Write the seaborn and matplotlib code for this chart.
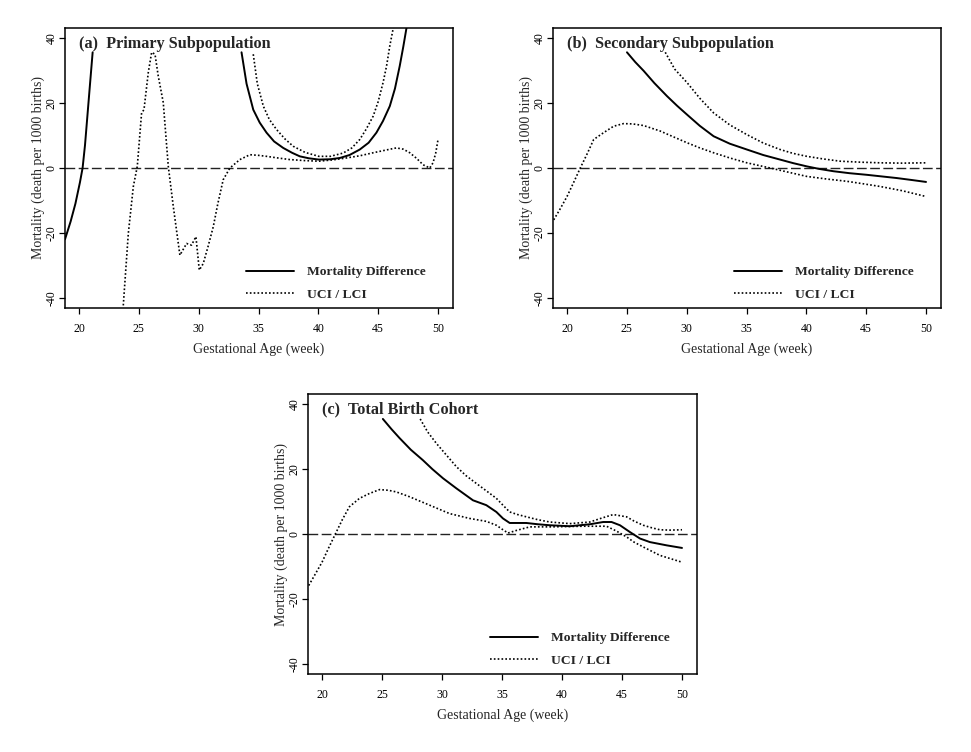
import numpy as np
import seaborn as sns
import matplotlib
matplotlib.use("Agg")
import matplotlib.pyplot as plt
import pandas as pd
from matplotlib.lines import Line2D

# ---- panel (a) Primary Subpopulation ----
a_diff1_x = [18.83, 19.3, 19.7, 20.08, 20.3, 20.5, 20.7, 20.9, 21.14]
a_diff1_y = [-22.0, -16.5, -11.0, -4.4, 0.0, 7.0, 16.0, 25.0, 35.7]
a_diff2_x = [33.58, 34.0, 34.56, 35.1, 35.67, 36.3, 37.06, 37.8, 38.45, 39.2,
             40.04, 41.0, 41.8, 42.6, 43.46, 44.2, 44.85, 45.4, 45.97, 46.4,
             46.8, 47.1, 47.4]
a_diff2_y = [35.7, 26.0, 18.0, 14.0, 10.9, 8.2, 6.2, 4.7, 3.6, 3.0,
             2.6, 2.7, 3.1, 4.0, 5.7, 7.8, 10.9, 14.5, 19.1, 24.5,
             31.5, 37.5, 44.0]
a_uci_x = [34.56, 34.9, 35.4, 35.9, 36.5, 37.2, 37.9, 38.9, 40.04, 41.0,
           42.07, 42.8, 43.46, 44.0, 44.58, 45.0, 45.41, 45.7, 45.97, 46.3]
a_uci_y = [35.1, 26.0, 19.1, 15.0, 11.9, 9.0, 6.7, 4.8, 3.6, 3.6,
           4.6, 6.2, 8.8, 12.0, 16.0, 20.5, 26.4, 31.5, 37.7, 44.0]
a_lci_x = [23.7, 24.12, 24.54, 24.87, 25.23, 25.43, 25.79, 26.07, 26.35, 26.62,
           27.04, 27.46, 27.88, 28.43, 28.99, 29.4, 29.77, 30.05, 30.38, 30.8,
           31.22, 31.6, 32.05, 32.61, 33.44, 34.28, 35.0, 35.67, 36.6, 37.62,
           38.8, 40.04, 41.2, 42.35, 43.5, 44.58, 45.6, 46.52, 47.1, 47.64,
           48.2, 48.75, 49.31, 49.58, 49.8, 50.0]
a_lci_y = [-42.4, -20.2, -5.7, 0.5, 17.0, 18.0, 29.5, 35.7, 35.1, 28.4,
           20.2, 0.5, -11.9, -26.9, -23.3, -23.8, -21.2, -31.5, -29.5, -24.0,
           -18.1, -11.0, -3.6, 0.0, 2.6, 4.1, 3.9, 3.6, 3.1, 2.6,
           2.3, 2.1, 2.5, 3.1, 3.8, 4.7, 5.5, 6.2, 5.8, 4.7,
           3.0, 1.0, 0.0, 1.6, 4.5, 8.8]

# ---- panel (b) Secondary Subpopulation ----
b_diff_x = [25.01, 25.7, 26.4, 27.3, 28.35, 29.2, 30.02, 31.1, 32.25, 33.6,
            35.03, 36.4, 37.8, 38.9, 40.04, 41.1, 42.27, 43.6, 45.05, 46.3,
            47.55, 48.8, 50.0]
b_diff_y = [35.7, 32.7, 30.0, 26.2, 22.2, 19.2, 16.5, 13.0, 9.8, 7.5,
            5.7, 4.0, 2.6, 1.5, 0.5, -0.3, -1.0, -1.6, -2.1, -2.6,
            -3.1, -3.7, -4.3]
b_uci_x = [28.21, 29.0, 30.02, 31.1, 32.25, 33.6, 35.03, 36.4, 37.81, 38.9,
           40.04, 41.4, 42.82, 44.5, 46.16, 48.0, 50.0]
b_uci_y = [35.7, 30.5, 26.4, 21.5, 17.0, 13.3, 10.3, 7.7, 5.7, 4.5,
           3.6, 2.8, 2.1, 1.8, 1.6, 1.5, 1.6]
b_lci_x = [18.89, 19.4, 20.0, 20.55, 21.11, 21.7, 22.23, 23.06, 23.9, 24.73,
           25.5, 26.4, 27.79, 28.9, 30.02, 31.1, 32.25, 33.6, 35.03, 36.0,
           36.98, 38.5, 40.04, 41.7, 43.38, 44.8, 46.16, 48.0, 50.0]
b_lci_y = [-16.0, -12.8, -8.8, -4.5, 0.0, 4.5, 8.8, 10.9, 12.9, 13.7,
           13.6, 13.1, 11.4, 9.6, 7.8, 6.2, 4.7, 3.1, 1.6, 0.8,
           0.0, -1.3, -2.6, -3.4, -4.1, -4.9, -5.7, -7.0, -8.8]

# ---- panel (c) Total Birth Cohort ----
c_diff_x = [25.07, 25.8, 26.46, 27.4, 28.4, 29.2, 30.08, 31.19, 32.58, 33.69,
            34.53, 35.08, 35.64, 36.3, 37.03, 38.0, 38.98, 40.65, 42.32, 43.43,
            44.13, 44.83, 45.66, 46.5, 47.33, 48.72, 50.0]
c_diff_y = [35.5, 32.3, 29.6, 26.0, 22.8, 20.0, 17.2, 14.1, 10.4, 8.9,
            6.8, 4.8, 3.4, 3.4, 3.4, 3.0, 2.7, 2.4, 3.0, 3.7,
            3.7, 2.7, 0.6, -1.4, -2.5, -3.5, -4.3]
c_uci_x = [28.18, 28.8, 29.52, 30.4, 31.19, 32.0, 32.86, 33.7, 34.53, 35.1,
           35.64, 36.3, 37.03, 38.0, 38.98, 40.65, 42.32, 43.3, 44.27, 45.38,
           46.0, 46.77, 47.5, 48.16, 49.0, 50.0]
c_uci_y = [35.5, 31.5, 28.0, 24.2, 20.8, 18.0, 15.6, 13.3, 11.0, 8.8,
           6.8, 6.0, 5.3, 4.4, 3.7, 3.2, 3.7, 4.9, 6.0, 5.3,
           4.0, 2.7, 1.9, 1.3, 1.2, 1.3]
c_lci_x = [18.89, 19.4, 20.0, 20.55, 21.11, 21.7, 22.28, 23.12, 23.95, 24.79,
           25.5, 26.18, 27.29, 28.96, 30.63, 32.3, 33.69, 34.53, 35.0, 35.5,
           36.2, 37.31, 38.98, 40.4, 41.76, 43.71, 44.54, 45.38, 46.0, 46.77,
           48.16, 50.0]
c_lci_y = [-15.9, -12.6, -8.7, -4.3, 0.0, 4.5, 8.4, 11.0, 12.5, 13.7,
           13.5, 13.0, 11.5, 8.9, 6.3, 4.8, 3.9, 2.7, 1.5, 0.3,
           1.1, 2.2, 2.2, 2.3, 2.4, 2.4, 0.9, -0.9, -2.5, -4.0,
           -6.6, -8.7]

titles = ["(a)  Primary Subpopulation", "(b)  Secondary Subpopulation",
          "(c)  Total Birth Cohort"]
legend_labels = ["Mortality Difference", "UCI / LCI"]
x_ticks = [20, 25, 30, 35, 40, 45, 50]
y_ticks = [-40, -20, 0, 20, 40]

sns.set_theme(style="ticks")
plt.rcParams['font.family'] = ['Liberation Serif', 'DejaVu Serif']

fig = plt.figure(figsize=(9.71, 7.52), dpi=100)
W, H = 971, 752
boxes = [(65, 28, 453, 308), (553, 28, 941, 308), (308, 394, 697, 674)]

solid_kw = dict(color="black", linewidth=1.4, linestyle="-")
dot_kw = dict(color="black", linewidth=1.2, linestyle=(0, (1, 1.3)))


def seg(ax, xs, ys, kw):
    df = pd.DataFrame({"x": xs, "y": ys})
    sns.lineplot(data=df, x="x", y="y", ax=ax, sort=False, estimator=None, **kw)


panels = [
    ([(a_diff1_x, a_diff1_y), (a_diff2_x, a_diff2_y)],
     [(a_uci_x, a_uci_y), (a_lci_x, a_lci_y)]),
    ([(b_diff_x, b_diff_y)], [(b_uci_x, b_uci_y), (b_lci_x, b_lci_y)]),
    ([(c_diff_x, c_diff_y)], [(c_uci_x, c_uci_y), (c_lci_x, c_lci_y)]),
]

for (l, t, r, b), title, (solids, dots) in zip(boxes, titles, panels):
    ax = fig.add_axes([l / W, 1 - b / H, (r - l) / W, (b - t) / H])
    ax.axhline(0, color="#222222", linewidth=1.0, linestyle=(0, (7, 2.5)))
    for xs, ys in solids:
        seg(ax, xs, ys, solid_kw)
    for xs, ys in dots:
        seg(ax, xs, ys, dot_kw)
    ax.set_xlim(18.83, 51.25)
    ax.set_ylim(-43.2, 43.2)
    ax.set_xticks(x_ticks)
    ax.set_yticks(y_ticks)
    ax.set_yticklabels([str(v) for v in y_ticks], rotation=90, va="center")
    ax.tick_params(direction="out", length=4, width=0.9, labelsize=8.5,
                   colors="black")
    ax.tick_params(axis="x", pad=6.5)
    ax.tick_params(axis="y", pad=1.5)
    for s in ax.spines.values():
        s.set_visible(True)
        s.set_linewidth(1.1)
        s.set_color("black")
    ax.set_xlabel("Gestational Age (week)", fontsize=10, labelpad=5.5)
    ax.set_ylabel("Mortality (death per 1000 births)", fontsize=10, labelpad=0.5)
    ax.text(0.035, 0.972, title, transform=ax.transAxes, fontsize=11.7,
            fontweight="bold", va="top", ha="left")
    handles = [Line2D([], [], **solid_kw), Line2D([], [], **dot_kw)]
    ax.legend(handles, legend_labels, loc="lower right", frameon=False,
              bbox_to_anchor=(0.93, 0.025), borderpad=0, borderaxespad=0,
              handlelength=3.6, handletextpad=0.95, labelspacing=0.75,
              prop={"weight": "bold", "size": 9.7})

fig.savefig("out.png", dpi=100)
